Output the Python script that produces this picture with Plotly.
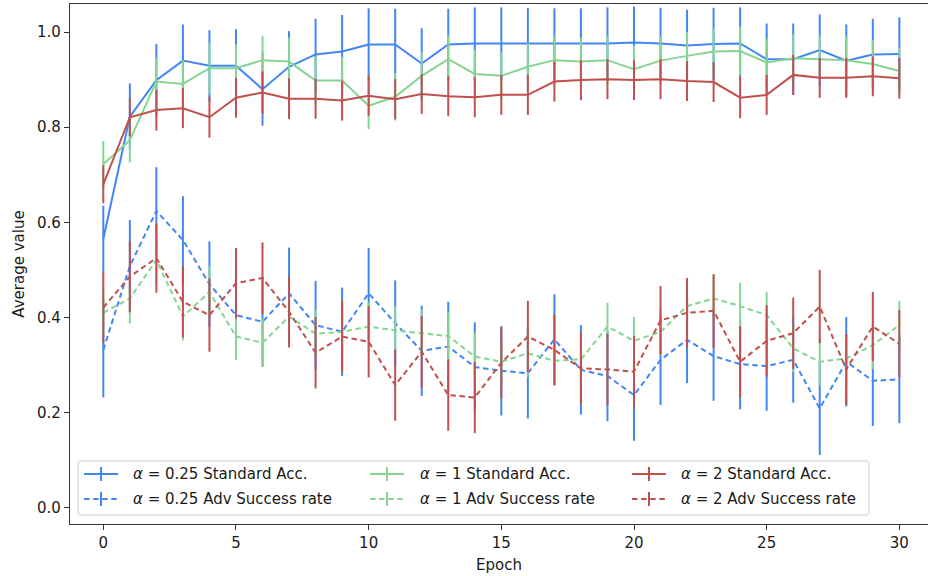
import plotly.graph_objects as go

# ---- data -------------------------------------------------------------
epochs = list(range(31))

std_acc_a025 = [0.565, 0.822, 0.899, 0.940, 0.929, 0.929, 0.880, 0.927, 0.953, 0.959, 0.974,
                0.974, 0.934, 0.974, 0.976, 0.976, 0.976, 0.975, 0.975, 0.976, 0.978,
                0.976, 0.972, 0.975, 0.976, 0.943, 0.943, 0.962, 0.940, 0.953, 0.954]
std_acc_a025_err = [0.070, 0.070, 0.076, 0.076, 0.075, 0.077, 0.077, 0.075, 0.075, 0.077, 0.076,
                    0.075, 0.074, 0.075, 0.076, 0.076, 0.075, 0.075, 0.075, 0.076, 0.076,
                    0.075, 0.075, 0.076, 0.076, 0.075, 0.075, 0.075, 0.076, 0.075, 0.077]

std_acc_a1 = [0.722, 0.773, 0.896, 0.891, 0.924, 0.924, 0.941, 0.938, 0.898, 0.898, 0.845,
              0.864, 0.908, 0.943, 0.912, 0.908, 0.927, 0.941, 0.938, 0.941, 0.922,
              0.940, 0.950, 0.959, 0.960, 0.936, 0.945, 0.943, 0.941, 0.933, 0.918]
std_acc_a1_err = [0.049, 0.047, 0.050, 0.050, 0.053, 0.050, 0.051, 0.050, 0.050, 0.050, 0.049,
                  0.050, 0.050, 0.050, 0.050, 0.050, 0.050, 0.050, 0.050, 0.050, 0.050,
                  0.050, 0.050, 0.050, 0.050, 0.050, 0.050, 0.050, 0.050, 0.050, 0.050]

std_acc_a2 = [0.680, 0.821, 0.836, 0.840, 0.821, 0.862, 0.873, 0.860, 0.860, 0.856, 0.866,
              0.859, 0.870, 0.865, 0.863, 0.868, 0.868, 0.896, 0.899, 0.901, 0.899,
              0.901, 0.897, 0.895, 0.862, 0.868, 0.910, 0.904, 0.904, 0.907, 0.903]
std_acc_a2_err = [0.040, 0.040, 0.043, 0.042, 0.043, 0.042, 0.044, 0.043, 0.042, 0.042, 0.042,
                  0.042, 0.042, 0.042, 0.042, 0.042, 0.042, 0.042, 0.042, 0.042, 0.042,
                  0.042, 0.042, 0.042, 0.043, 0.042, 0.042, 0.042, 0.042, 0.042, 0.043]

adv_rate_a025 = [0.332, 0.508, 0.624, 0.563, 0.470, 0.405, 0.391, 0.451, 0.384, 0.370, 0.451,
                 0.388, 0.330, 0.339, 0.296, 0.288, 0.283, 0.354, 0.290, 0.277, 0.237,
                 0.311, 0.353, 0.319, 0.302, 0.298, 0.311, 0.209, 0.307, 0.267, 0.270]
adv_rate_a025_err = [0.100, 0.097, 0.092, 0.092, 0.090, 0.094, 0.094, 0.096, 0.093, 0.093, 0.095,
                     0.090, 0.095, 0.094, 0.094, 0.094, 0.095, 0.095, 0.094, 0.095, 0.096,
                     0.095, 0.091, 0.094, 0.095, 0.094, 0.090, 0.098, 0.094, 0.095, 0.092]

adv_rate_a1 = [0.410, 0.440, 0.521, 0.402, 0.454, 0.360, 0.347, 0.402, 0.366, 0.370, 0.381,
               0.373, 0.367, 0.361, 0.318, 0.307, 0.325, 0.309, 0.312, 0.381, 0.351,
               0.370, 0.424, 0.440, 0.424, 0.405, 0.335, 0.307, 0.314, 0.342, 0.384]
adv_rate_a1_err = [0.050, 0.052, 0.050, 0.050, 0.054, 0.049, 0.051, 0.050, 0.050, 0.050, 0.050,
                   0.050, 0.050, 0.050, 0.050, 0.050, 0.050, 0.050, 0.050, 0.050, 0.050,
                   0.050, 0.050, 0.050, 0.049, 0.049, 0.050, 0.050, 0.050, 0.050, 0.051]

adv_rate_a2 = [0.421, 0.486, 0.525, 0.433, 0.405, 0.472, 0.483, 0.412, 0.326, 0.360, 0.349,
               0.258, 0.328, 0.237, 0.232, 0.305, 0.360, 0.332, 0.293, 0.291, 0.286,
               0.394, 0.410, 0.414, 0.307, 0.351, 0.367, 0.423, 0.291, 0.381, 0.345]
adv_rate_a2_err = [0.075, 0.075, 0.073, 0.075, 0.077, 0.074, 0.075, 0.075, 0.075, 0.075, 0.075,
                   0.075, 0.075, 0.075, 0.075, 0.075, 0.075, 0.075, 0.075, 0.075, 0.075,
                   0.072, 0.073, 0.077, 0.075, 0.075, 0.075, 0.077, 0.074, 0.073, 0.071]

alpha_labels = ["0.25", "1", "2"]
colors = ["#4286f4", "#86d592", "#c0504e"]

std_series = [(std_acc_a025, std_acc_a025_err), (std_acc_a1, std_acc_a1_err), (std_acc_a2, std_acc_a2_err)]
adv_series = [(adv_rate_a025, adv_rate_a025_err), (adv_rate_a1, adv_rate_a1_err), (adv_rate_a2, adv_rate_a2_err)]

DASH = "5.5px,3.6px"
FONT = "DejaVu Sans"
FS = 15

fig = go.Figure()

for label, color, (s_y, s_e), (a_y, a_e) in zip(alpha_labels, colors, std_series, adv_series):
    fig.add_trace(go.Scatter(
        x=epochs, y=s_y, mode="lines",
        line=dict(color=color, width=2),
        error_y=dict(type="data", array=s_e, visible=True, color=color, thickness=2, width=0),
        name=f"α = {label} Standard Acc.", showlegend=False,
    ))
    fig.add_trace(go.Scatter(
        x=epochs, y=a_y, mode="lines",
        line=dict(color=color, width=2, dash=DASH),
        error_y=dict(type="data", array=a_e, visible=True, color=color, thickness=2, width=0),
        name=f"α = {label} Adv Success rate", showlegend=False,
    ))

# ---- geometry of the plotting area (pixels) ----------------------------
W, H = 928, 576
L, T, R, B = 70, 4, 0, 52
PW, PH = W - L - R, H - T - B


def px_x(px):
    return (px - L) / PW


def px_y(py):
    return (H - B - py) / PH


# ---- legend box with three columns --------------------------------------
shapes = []
annotations = []

bx0, bx1, by0, by1, rad = 78, 869, 461, 515, 3
rx, ry = rad / PW, rad / PH
X0, X1, Y0, Y1 = px_x(bx0), px_x(bx1), px_y(by1), px_y(by0)
path = (f"M {X0 + rx},{Y0} L {X1 - rx},{Y0} Q {X1},{Y0} {X1},{Y0 + ry} "
        f"L {X1},{Y1 - ry} Q {X1},{Y1} {X1 - rx},{Y1} L {X0 + rx},{Y1} "
        f"Q {X0},{Y1} {X0},{Y1 - ry} L {X0},{Y0 + ry} Q {X0},{Y0} {X0 + rx},{Y0} Z")
shapes.append(dict(type="path", path=path, xref="paper", yref="paper", layer="above",
                   fillcolor="rgba(255,255,255,0.8)", line=dict(color="#cccccc", width=1)))

col_sym_x = [84, 370, 632]
col_txt_x = [131, 418, 679]
row_y = [474, 499]
sym_len = 34

for col, (label, color) in enumerate(zip(alpha_labels, colors)):
    for row, (kind, dash) in enumerate([("Standard Acc.", "solid"), ("Adv Success rate", DASH)]):
        sx0 = col_sym_x[col]
        sx1 = sx0 + sym_len
        cy = row_y[row]
        cx = (sx0 + sx1) / 2
        shapes.append(dict(type="line", xref="paper", yref="paper", layer="above",
                           x0=px_x(sx0), x1=px_x(sx1), y0=px_y(cy), y1=px_y(cy),
                           line=dict(color=color, width=2, dash=dash)))
        shapes.append(dict(type="line", xref="paper", yref="paper", layer="above",
                           x0=px_x(cx), x1=px_x(cx), y0=px_y(cy - 7), y1=px_y(cy + 7),
                           line=dict(color=color, width=2)))
        annotations.append(dict(
            x=px_x(col_txt_x[col]), y=px_y(cy), xref="paper", yref="paper",
            xanchor="left", yanchor="middle", showarrow=False,
            text=f"<i>α</i> = {label} {kind}",
            font=dict(family=FONT, size=FS, color="#1a1a1a"),
        ))

fig.update_layout(
    width=W, height=H,
    margin=dict(l=L, r=R, t=T, b=B, autoexpand=False),
    paper_bgcolor="white", plot_bgcolor="white",
    font=dict(family=FONT, size=FS, color="#1a1a1a"),
    shapes=shapes, annotations=annotations,
    showlegend=False,
)

fig.update_xaxes(
    range=[-1.255, 31.08], tickmode="array", tickvals=[0, 5, 10, 15, 20, 25, 30],
    ticks="outside", ticklen=5, tickwidth=1, tickcolor="#333",
    showline=True, linecolor="#333", linewidth=1.2, mirror=True,
    showgrid=False, zeroline=False,
    tickfont=dict(family=FONT, size=FS),
    title=dict(text="Epoch", standoff=8, font=dict(family=FONT, size=FS)),
    automargin=False,
)
fig.update_yaxes(
    range=[-0.034, 1.059], tickmode="array", tickvals=[0, 0.2, 0.4, 0.6, 0.8, 1.0],
    tickformat=".1f",
    ticks="outside", ticklen=5, tickwidth=1, tickcolor="#333",
    showline=True, linecolor="#333", linewidth=1.2, mirror=False,
    showgrid=False, zeroline=False,
    tickfont=dict(family=FONT, size=FS),
    title=dict(text="Average value", standoff=8, font=dict(family=FONT, size=FS)),
    automargin=False,
)

fig.write_html("out.html")
